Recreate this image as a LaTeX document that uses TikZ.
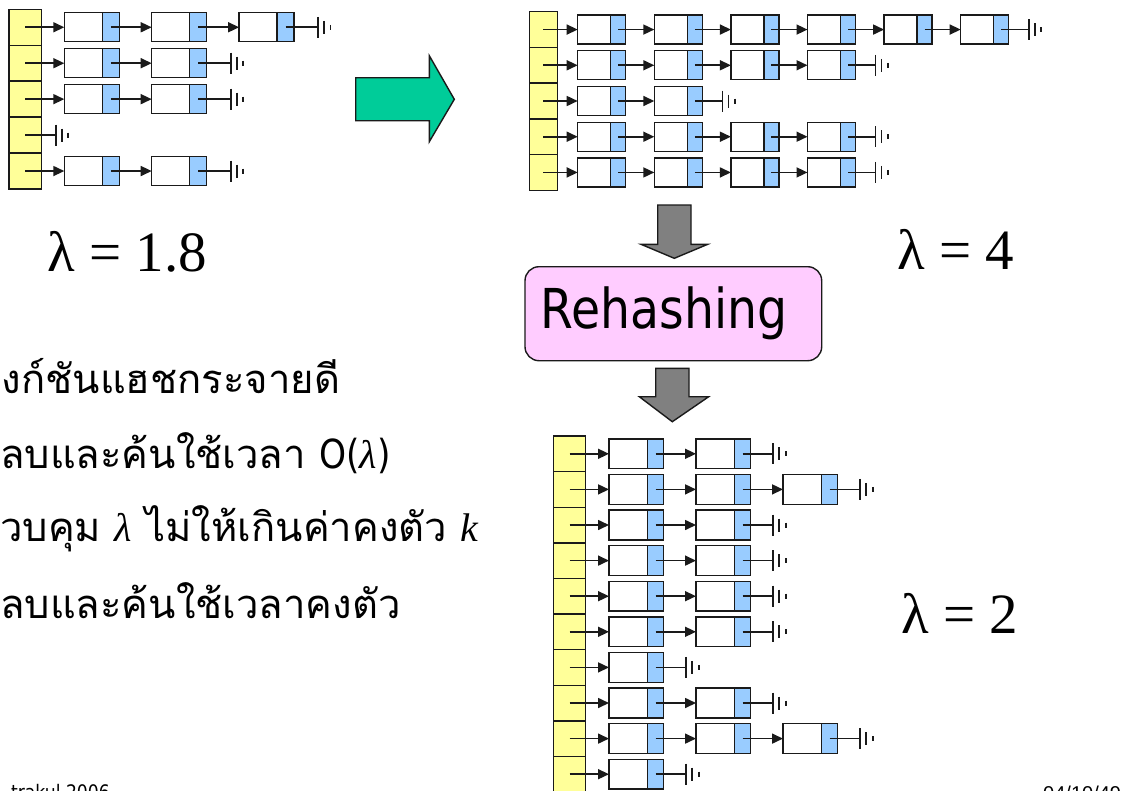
\documentclass[tikz,border=0pt]{standalone}
\usepackage{fontspec}
\usetikzlibrary{arrows.meta}
\newfontfamily\thaifont[Script=Thai]{Loma}
\newfontfamily\uifont[FakeStretch=0.86]{DejaVu Sans}
\newfontfamily\grkfont{Liberation Serif}
\newfontfamily\datefont{Liberation Sans}
\definecolor{slotyellow}{HTML}{FFFF99}
\definecolor{ptrblue}{HTML}{99CCFF}
\definecolor{rehashpink}{HTML}{FFCCFF}
\definecolor{growgreen}{HTML}{00CC99}
\definecolor{stepgray}{HTML}{808080}
\definecolor{ink}{HTML}{1A1A1A}

\tikzset{
  slot/.style={draw=ink, fill=slotyellow, line width=1.4pt, inner sep=0pt, outer sep=0pt,
    minimum width=\cw pt, minimum height=\ch pt},
  datapart/.style={draw=ink, fill=white, line width=1.4pt, inner sep=0pt, outer sep=0pt,
    minimum width=\bw pt, minimum height=\bh pt},
  ptrpart/.style={draw=ink, fill=ptrblue, line width=1.4pt, inner sep=0pt, outer sep=0pt,
    minimum width=\bb pt, minimum height=\bh pt},
  wire/.style={draw=ink, line width=1.6pt},
  link/.style={wire, -{Triangle[length=11pt,width=10pt]}},
  gnd/.pic={\draw[ink, line width=1.6pt] (0,-10.5) -- (0,10.5) (6,-6.5) -- (6,6.5)
    (12.5,-2.5) -- (12.5,2.5);},
  blockarrow/.style={draw=ink, line width=1.4pt, line join=miter},
  lambdalabel/.style={anchor=base, inner sep=0pt, font=\grkfont\fontsize{57}{64}\selectfont},
  textline/.style={anchor=base west, inner sep=0pt, font=\fontsize{40}{48}\selectfont},
}

% One hash table: a column of slots, each with its chain of list nodes
% #1 name prefix, #2 chain lengths, one per slot
\newcommand{\drawtable}[2]{%
  \foreach \n [count=\r] in {#2} {
    \pgfmathsetmacro{\cy}{\ty+(\r-0.5)*\ch}
    \node[slot] (#1c\r) at (\cx,\cy) {};
    \ifnum\n=0\relax
      \coordinate (#1g\r) at ([xshift=14pt]#1c\r.east);
      \draw[wire] (#1c\r.center) -- (#1g\r);
      \pic at (#1g\r) {gnd};
    \else
      \foreach \i in {1,...,\n} {
        \pgfmathsetmacro{\bxx}{\bx+(\i-1)*\bs}
        \node[datapart, anchor=west] (#1n\r-\i) at (\bxx,\cy) {};
        \node[ptrpart, anchor=west] (#1p\r-\i) at (#1n\r-\i.east) {};
      }
      \draw[link] (#1c\r.center) -- (#1n\r-1.west);
      \foreach \i in {1,...,\n} {
        \ifnum\i<\n\relax
          \pgfmathtruncatemacro{\j}{\i+1}
          \draw[link] (#1p\r-\i.center) -- (#1n\r-\j.west);
        \else
          \coordinate (#1g\r) at ([xshift=\gz pt]#1p\r-\i.east);
          \draw[wire] (#1p\r-\i.center) -- (#1g\r);
          \pic at (#1g\r) {gnd};
        \fi
      }
    \fi
  }%
}

\begin{document}
\begin{tikzpicture}[x=1pt, y=-1pt]
\useasboundingbox (0,0) rectangle (1121,790);
\fill[white] (0,0) rectangle (1121,790);
\clip (0,0) rectangle (1121,790);

% small table, load factor 1.8
\def\cx{25.35}\def\cw{32.7}\def\ty{9.3}\def\ch{35.94}
\def\bx{64.3}\def\bs{87.4}\def\bw{38}\def\bb{17}\def\bh{29}\def\gz{24}
\drawtable{a}{3,2,2,0,2}

% small table after more insertions, load factor 4
\def\cx{543.3}\def\cw{28}\def\ty{11.7}\def\ch{35.72}
\def\bx{577.7}\def\bs{76.6}\def\bw{33}\def\bb{15}\def\bh{29}\def\gz{20}
\drawtable{b}{6,4,2,4,4}

% enlarged table after rehashing, load factor 2
\def\cx{569.5}\def\cw{32.4}\def\ty{436}\def\ch{35.6}
\def\bx{609}\def\bs{87}\def\bw{38.4}\def\bb{16.3}\def\bh{29.7}\def\gz{22.5}
\drawtable{c}{2,3,2,2,2,2,1,2,3,1}

% growth arrow
\draw[blockarrow, fill=growgreen] (355.7,77.7) -- (429.3,77.7) -- (429.3,55.7) -- (454.3,99.3)
  -- (429.3,141.7) -- (429.3,120.7) -- (355.7,120.7) -- cycle;

% rehashing step
\draw[blockarrow, fill=stepgray] (657.7,205) -- (691,205) -- (691,244.3) -- (707.7,244.3)
  -- (674.3,258.3) -- (641,244.3) -- (657.7,244.3) -- cycle;
\node[draw=ink, fill=rehashpink, line width=1.4pt, rounded corners=14pt, inner sep=0pt,
  minimum width=296.7pt, minimum height=94pt] (rh) at (673.35,313.7) {};
\node[anchor=base, inner sep=0pt, font=\uifont\fontsize{55}{64}\selectfont] (rht)
  at (664,328.3) {Rehashing};
\draw[blockarrow, fill=stepgray] (655.7,368.3) -- (689,368.3) -- (689,396.7) -- (708.7,396.7)
  -- (672.3,421.7) -- (639.3,396.7) -- (655.7,396.7) -- cycle;

% load factors
\node[lambdalabel] (la) at (127,271.7) {λ = 1.8};
\node[lambdalabel] (lb) at (955.7,269.3) {λ = 4};
\node[lambdalabel] (lc) at (960,633) {λ = 2};

% notes
\node[textline] (t1) at (1.7,393.3) {\thaifont งก์ชันแฮชกระจายดี};
\node[textline] (t2) at (0,468.3) {\thaifont ลบและค้นใช้เวลา \uifont O({\grkfont\itshape λ})};
\node[textline] (t3) at (0,541.7) {\thaifont วบคุม {\grkfont\itshape λ} ไม่ให้เกินค่าคงตัว {\grkfont\itshape k}};
\node[textline] (t4) at (0,618.3) {\thaifont ลบและค้นใช้เวลาคงตัว};

% footer
\node[anchor=base east, inner sep=0pt, font=\uifont\fontsize{20}{24}\selectfont] (fl)
  at (110,799.6) {trakul 2006};
\node[anchor=base west, inner sep=0pt, font=\datefont\fontsize{20}{24}\selectfont] (fr)
  at (1043,800) {04/10/49};
\end{tikzpicture}
\end{document}
